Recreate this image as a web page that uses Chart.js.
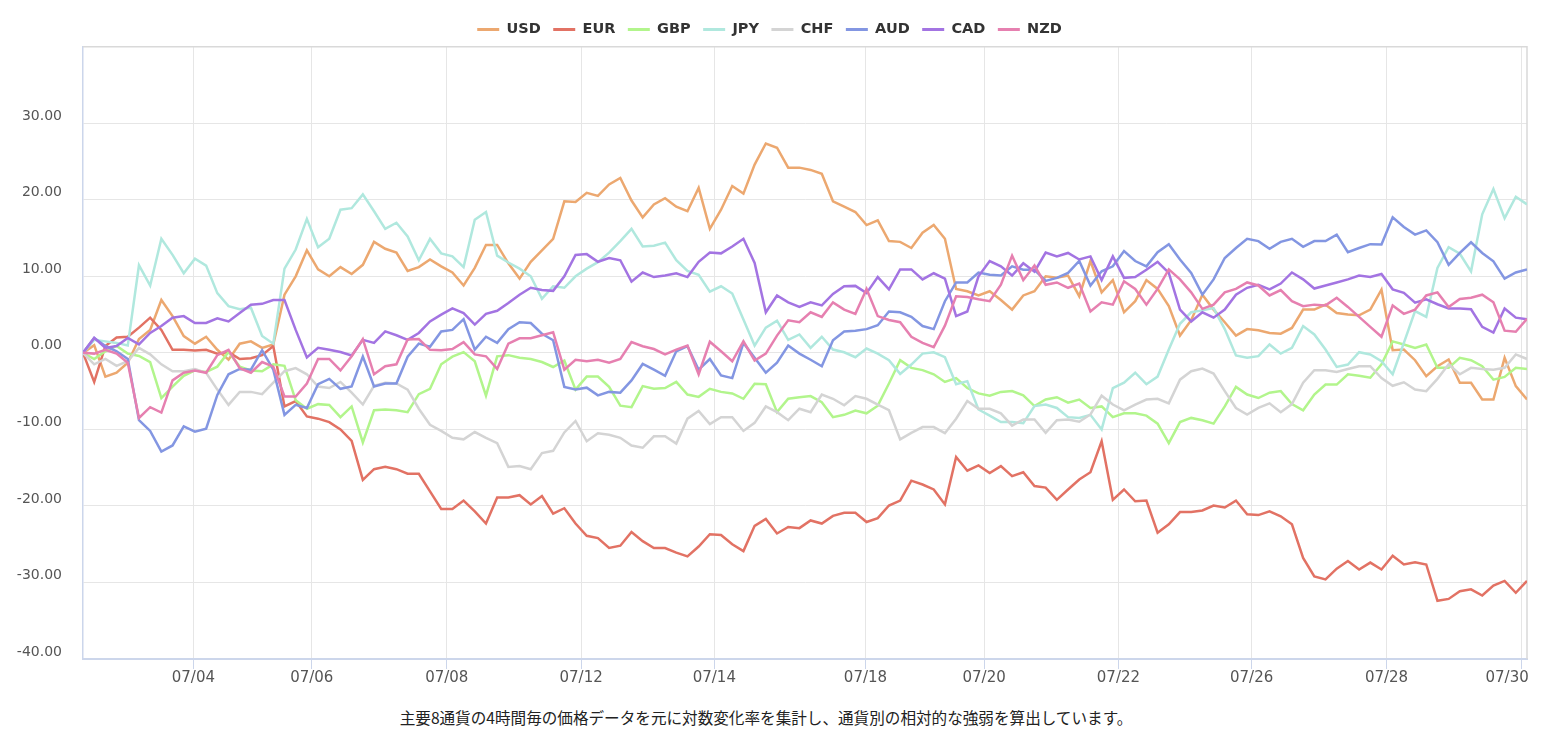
<!DOCTYPE html>
<html lang="ja">
<head>
<meta charset="utf-8">
<title>通貨強弱</title>
<script src="https://cdn.jsdelivr.net/npm/chart.js@4.4.1/dist/chart.umd.min.js"></script>
<style>
  html, body { margin: 0; padding: 0; background: #fff; }
  #wrap { position: relative; width: 1542px; height: 700px; }
  #note {
    position: absolute; top: 706px; left: 0; width: 1532px;
    text-align: center; line-height: 20px; color: #222;
    font: 15.6px "Noto Sans CJK JP", sans-serif;
  }
</style>
</head>
<body>
<div id="wrap"><canvas id="strengthChart"></canvas></div>
<div id="note">主要8通貨の4時間毎の価格データを元に対数変化率を集計し、通貨別の相対的な強弱を算出しています。</div>
<script>
const currencies = ["USD", "EUR", "GBP", "JPY", "CHF", "AUD", "CAD", "NZD"];

// x axis: point index (4h bars); ticks sit between bars
const tickPos = [9.86, 20.44, 32.5, 44.5, 56.4, 69.9, 80.5, 92.5, 104.4, 116.45, 128.5];
const tickLabels = ["07/04", "07/06", "07/08", "07/12", "07/14", "07/18", "07/20", "07/22", "07/26", "07/28", "07/30"];

const usd = [0, 1.0, -3.1, -2.6, -1.3, 1.8, 3.0, 6.9, 4.8, 2.2, 1.2, 2.1, 0.4, -0.9, 1.2, 1.5, 0.65, 1.1, 7.6, 10.0, 13.4, 10.9,
  10.0, 11.2, 10.3, 11.5, 14.5, 13.6, 13.1, 10.7, 11.2, 12.2, 11.3, 10.5, 8.8, 11.1, 14.1, 14.1, 11.7, 9.7, 11.9, 13.4, 14.9, 19.8,
  19.7, 20.9, 20.5, 22.0, 22.85, 19.9, 17.7, 19.4, 20.2, 19.1, 18.5, 21.55, 16.2, 18.7, 21.8, 20.8, 24.6, 27.35, 26.8, 24.2, 24.2, 23.9,
  23.4, 19.8, 19.1, 18.4, 16.7, 17.3, 14.6, 14.5, 13.7, 15.7, 16.7, 14.9, 8.35, 8.05, 7.5, 8.05, 6.9, 5.65, 7.5, 8.05, 10.0,
  9.8, 10.1, 7.4, 12.0, 7.9, 9.5, 5.3, 6.75, 9.5, 8.35, 6.1, 2.26, 4.26, 7.6, 5.65, 4.0, 2.26, 3.1, 2.96, 2.6, 2.5, 3.25,
  5.65, 5.65, 6.3, 5.2, 5.0, 4.9, 5.65, 8.25, 0.35, 0.43, -0.96, -3.05, -1.75, -0.87, -3.9, -3.9, -6.1, -6.1, -0.65, -4.35, -6.1];

const eur = [0, -3.8, 0.9, 2.0, 2.1, 3.3, 4.6, 3.0, 0.4, 0.4, 0.3, 0.4, -0.1, 0.1, -0.8, -0.7, -0.3, 0.9, -7.0, -6.3, -8.3, -8.6,
  -9.05, -10.0, -11.5, -16.6, -15.2, -14.9, -15.2, -15.8, -15.8, -18.1, -20.4, -20.4, -19.3, -20.7, -22.3, -18.9, -18.9, -18.6, -19.8, -18.7, -21.0, -20.3,
  -22.3, -23.9, -24.2, -25.5, -25.2, -23.4, -24.6, -25.5, -25.5, -26.1, -26.6, -25.3, -23.7, -23.8, -25.0, -25.9, -22.6, -21.7, -23.6, -22.75, -22.9, -21.9,
  -22.3, -21.3, -20.9, -20.9, -22.1, -21.6, -19.95, -19.3, -16.7, -17.2, -17.85, -19.8, -13.6, -15.4, -14.7, -15.7, -14.8, -16.1, -15.6, -17.4, -17.6,
  -19.2, -17.85, -16.55, -15.6, -11.55, -19.2, -17.85, -19.4, -19.3, -23.5, -22.4, -20.8, -20.8, -20.6, -19.95, -20.2, -19.3, -21.1, -21.2, -20.7, -21.35, -22.4,
  -26.8, -29.2, -29.6, -28.2, -27.2, -28.3, -27.4, -28.3, -26.5, -27.65, -27.35, -27.65, -32.4, -32.15, -31.15, -30.9, -31.7, -30.4, -29.8, -31.35, -29.8];

const gbp = [0, -0.8, 0.2, 0.9, -0.1, -0.4, -1.2, -5.9, -4.4, -3.0, -2.3, -2.5, -1.8, 0.1, -1.8, -2.3, -2.4, -1.5, -1.7, -6.2, -7.3, -6.7,
  -6.8, -8.4, -7.0, -11.7, -7.5, -7.4, -7.5, -7.75, -5.4, -4.7, -1.5, -0.5, 0.1, -1.1, -5.6, -0.45, -0.3, -0.65, -0.8, -1.2, -1.85, -1.0,
  -4.8, -3.1, -3.1, -4.45, -6.9, -7.1, -4.35, -4.7, -4.6, -3.8, -5.45, -5.75, -4.7, -5.1, -5.3, -6.0, -4.05, -4.1, -7.75, -6.0, -5.8, -5.65,
  -6.45, -8.4, -8.1, -7.55, -7.9, -6.9, -4.0, -0.96, -1.96, -2.26, -2.8, -3.8, -3.3, -4.6, -5.3, -5.6, -5.1, -5.0, -5.55, -6.95, -6.1,
  -5.8, -6.5, -6.1, -7.2, -7.0, -8.4, -7.9, -7.9, -8.2, -9.25, -11.8, -9.05, -8.5, -8.8, -9.25, -7.0, -4.45, -5.45, -5.9, -5.2, -5.0, -6.7,
  -7.5, -5.45, -4.15, -4.15, -2.8, -3.0, -3.25, -1.5, 1.5, 1.1, 0.65, 1.1, -1.96, -1.96, -0.65, -0.96, -1.75, -3.5, -3.15, -1.96, -2.1];

const jpy = [0, 1.7, 1.5, 1.3, 0.95, 11.45, 8.8, 14.9, 12.8, 10.4, 12.3, 11.4, 7.8, 6.1, 5.7, 5.9, 2.2, 1.2, 11.0, 13.5, 17.5, 13.8,
  14.9, 18.7, 18.9, 20.7, 18.5, 16.2, 17.0, 15.2, 12.1, 14.9, 13.0, 12.6, 11.2, 17.4, 18.4, 12.7, 11.8, 11.0, 10.0, 7.05, 8.7, 8.5,
  10.0, 11.0, 11.85, 13.1, 14.6, 16.2, 13.9, 14.0, 14.4, 12.1, 10.7, 10.2, 8.0, 8.7, 7.75, 4.35, 0.95, 3.3, 4.2, 1.7, 2.4, 0.65,
  2.1, 0.43, 0.08, -0.57, 0.56, -0.1, -0.96, -2.75, -1.53, -0.1, 0.08, -0.57, -4.1, -3.7, -7.4, -8.2, -9.05, -9.05, -9.2, -6.95, -6.75,
  -7.2, -8.4, -8.5, -8.1, -10.0, -4.6, -3.9, -2.6, -4.1, -3.1, 0.43, 3.8, 5.3, 5.55, 5.85, 3.1, -0.35, -0.65, -0.43, 1.1, -0.1, 0.65,
  3.5, 2.4, 0.43, -1.84, -1.53, 0.08, -0.22, -1.1, -2.8, 1.3, 5.45, 4.7, 11.1, 13.8, 12.95, 10.65, 18.1, 21.4, 17.6, 20.4, 19.4];

const chf = [0, -1.5, -0.8, -1.7, -1.1, 0.65, -0.2, -1.5, -2.4, -2.4, -2.1, -2.6, -4.8, -6.8, -5.1, -5.1, -5.4, -3.9, -2.4, -2.0, -2.8, -4.4,
  -4.6, -3.8, -5.2, -6.75, -4.3, -3.9, -4.0, -4.8, -7.3, -9.4, -10.2, -11.1, -11.3, -10.35, -11.1, -11.8, -14.9, -14.8, -15.2, -13.1, -12.8, -10.4,
  -8.9, -11.55, -10.5, -10.7, -11.1, -12.1, -12.4, -10.9, -10.9, -11.85, -8.6, -7.6, -9.3, -8.4, -8.4, -10.2, -9.15, -7.0, -7.75, -8.8, -7.3, -7.75,
  -5.45, -6.0, -6.85, -5.65, -6.0, -6.75, -7.5, -11.3, -10.45, -9.7, -9.7, -10.5, -8.6, -6.3, -7.3, -7.3, -7.9, -9.5, -8.7, -8.7, -10.45,
  -8.8, -8.7, -9.0, -8.05, -5.6, -6.75, -7.5, -6.75, -6.1, -6.0, -6.6, -3.5, -2.4, -2.05, -2.7, -5.0, -7.2, -8.05, -7.2, -6.6, -7.75, -6.7,
  -3.9, -2.26, -2.26, -2.5, -2.1, -1.75, -1.75, -3.3, -4.3, -3.85, -4.8, -5.0, -3.4, -1.5, -2.8, -1.96, -2.1, -2.2, -1.96, -0.2, -0.8];

const aud = [0, 1.95, 0.9, 0.2, -0.8, -8.8, -10.2, -12.9, -12.1, -9.6, -10.3, -9.9, -5.5, -2.8, -2.1, -2.2, 0.35, -2.2, -8.1, -6.8, -7.2, -4.1,
  -3.4, -4.7, -4.4, -0.5, -4.4, -4.0, -4.0, -0.5, 1.2, 0.8, 2.8, 3.0, 4.4, 0.43, 2.1, 1.3, 3.1, 4.0, 3.9, 2.5, 1.65, -4.45,
  -4.8, -4.55, -5.55, -5.1, -5.2, -3.6, -1.45, -2.2, -3.0, 0.2, 0.87, -2.2, -0.8, -2.95, -3.3, 1.3, -0.65, -2.6, -1.3, 0.95, -0.1, -0.9,
  -1.75, 1.65, 2.8, 2.9, 3.1, 3.6, 5.4, 5.3, 4.7, 3.5, 3.1, 6.75, 9.2, 9.2, 10.5, 10.2, 10.1, 11.3, 10.85, 10.85, 9.4,
  9.8, 10.45, 12.0, 8.8, 10.65, 11.3, 13.3, 12.0, 11.3, 13.15, 14.2, 12.2, 10.45, 7.6, 9.6, 12.4, 13.7, 14.9, 14.6, 13.6, 14.5, 14.9,
  13.85, 14.6, 14.6, 15.45, 13.15, 13.7, 14.2, 14.15, 17.7, 16.45, 15.45, 16.0, 14.45, 11.5, 13.05, 14.45, 13.05, 11.96, 9.7, 10.5, 10.9];

const cad = [0, 1.95, 0.65, 0.9, 1.95, 1.1, 2.6, 3.5, 4.6, 4.8, 3.9, 3.9, 4.5, 4.1, 5.2, 6.3, 6.4, 6.9, 6.9, 3.0, -0.6, 0.65,
  0.4, 0.1, -0.35, 1.7, 1.3, 2.8, 2.3, 1.7, 2.6, 4.1, 5.0, 5.8, 5.2, 3.7, 5.1, 5.5, 6.5, 7.6, 8.5, 8.2, 8.1, 10.0,
  12.8, 12.9, 11.9, 12.4, 12.1, 9.3, 10.5, 9.9, 10.1, 10.4, 9.9, 11.9, 13.1, 13.0, 13.9, 14.9, 11.75, 5.3, 7.5, 6.6, 6.0, 6.6,
  6.2, 7.7, 8.7, 8.75, 7.8, 9.9, 8.3, 10.9, 10.9, 9.6, 10.4, 9.7, 4.8, 5.4, 10.0, 12.0, 11.3, 10.1, 11.7, 10.6, 13.1,
  12.6, 13.05, 12.2, 12.6, 9.5, 12.6, 9.8, 9.9, 10.85, 11.9, 10.45, 5.65, 4.1, 5.3, 4.6, 5.65, 7.6, 8.5, 8.9, 8.3, 9.05, 10.5,
  9.6, 8.4, 8.8, 9.2, 9.6, 10.1, 9.9, 10.3, 8.3, 7.85, 6.55, 7.0, 6.35, 5.8, 5.8, 5.7, 3.4, 2.65, 5.8, 4.6, 4.4];

const nzd = [0, -0.1, 0.4, -0.1, -1.3, -8.5, -7.1, -7.8, -3.6, -2.6, -2.3, -2.6, -0.3, 0.4, -2.0, -2.6, -1.2, -1.8, -5.7, -5.7, -4.0, -0.8,
  -0.8, -2.3, -0.45, 1.8, -2.8, -1.75, -1.5, 1.75, 1.8, 0.4, 0.35, 0.5, 1.4, -0.2, -0.45, -2.1, 1.2, 1.9, 1.9, 2.3, 2.7, -2.2,
  -0.9, -1.1, -0.9, -1.3, -0.8, 1.4, 0.87, 0.5, -0.2, 0.43, 0.95, -2.8, 1.45, 0.2, -1.1, 1.5, -1.0, -0.1, 2.25, 4.25, 4.0, 5.3,
  4.7, 6.6, 5.65, 5.1, 8.35, 4.8, 4.3, 4.0, 2.1, 1.3, 0.73, 3.55, 7.4, 7.3, 7.0, 6.75, 8.9, 12.7, 9.5, 11.4, 8.9,
  9.2, 8.5, 9.05, 5.4, 6.6, 6.3, 9.35, 8.35, 6.3, 8.35, 10.9, 9.6, 7.9, 5.75, 6.3, 7.9, 8.35, 9.2, 8.8, 7.5, 8.2, 6.75,
  6.1, 6.3, 6.2, 7.2, 6.0, 4.7, 3.4, 2.1, 6.2, 5.1, 5.65, 7.5, 7.9, 6.0, 7.05, 7.2, 7.6, 6.6, 2.9, 2.75, 4.45];

const seriesValues = [usd, eur, gbp, jpy, chf, aud, cad, nzd];
const lineColors = ["#eca870", "#e27264", "#b2f58c", "#b0e8de", "#d4d4d4", "#8396e2", "#a374e2", "#e680b0"];

// top and right edge of the plot frame
const frameEdges = {
  id: "frameEdges",
  beforeDatasetsDraw(chart) {
    const { ctx, chartArea: a } = chart;
    ctx.save();
    ctx.strokeStyle = "#d9d9d9";
    ctx.lineWidth = 1.5;
    ctx.beginPath();
    ctx.moveTo(a.left, a.top);
    ctx.lineTo(a.right, a.top);
    ctx.lineTo(a.right, a.bottom);
    ctx.stroke();
    ctx.restore();
  }
};

const datasets = currencies.map((name, i) => ({
  label: name,
  data: seriesValues[i].map((v, idx) => ({ x: idx, y: v })),
  borderColor: lineColors[i],
  backgroundColor: lineColors[i],
  borderWidth: 2.5,
  pointRadius: 0,
  tension: 0,
  order: currencies.length - i
}));

new Chart(document.getElementById("strengthChart"), {
  type: "line",
  data: { datasets: datasets },
  options: {
    responsive: true,
    maintainAspectRatio: false,
    animation: false,
    layout: { padding: { top: 9.7, right: 15, bottom: 13, left: 12 } },
    plugins: {
      legend: {
        position: "top",
        labels: {
          boxWidth: 22,
          boxHeight: 3,
          padding: 12.5,
          color: "#333",
          font: { family: "DejaVu Sans", size: 14.5, weight: "bold" },
          sort: (a, b) => a.datasetIndex - b.datasetIndex,
          generateLabels(chart) {
            const items = Chart.defaults.plugins.legend.labels.generateLabels(chart);
            items.forEach(it => { it.lineWidth = 0; it.fillStyle = it.strokeStyle; });
            return items;
          }
        }
      },
      tooltip: { enabled: false }
    },
    scales: {
      x: {
        type: "linear",
        min: 0,
        max: usd.length - 1,
        afterBuildTicks: s => { s.ticks = tickPos.map(v => ({ value: v })); },
        afterFit: s => { s.paddingLeft = 0; s.paddingRight = 0; },
        grid: { color: "#e6e6e6", tickColor: "#ccd6eb", tickLength: 10 },
        border: { color: "#ccd6eb", width: 2 },
        ticks: {
          autoSkip: false,
          maxRotation: 0,
          padding: 0,
          color: "#555",
          font: { family: "DejaVu Sans", size: 15 },
          // last label is pushed left so it stays inside the canvas
          callback: (v, i) => i === tickLabels.length - 1 ? tickLabels[i] + "\u00a0".repeat(6) : tickLabels[i]
        }
      },
      y: {
        min: -40,
        max: 40,
        afterFit: s => { s.width = 71; s.paddingTop = 0; s.paddingBottom = 0; },
        grid: { color: "#e6e6e6", drawTicks: false },
        border: { color: "#ccd6eb", width: 1.5 },
        ticks: {
          stepSize: 10,
          padding: 21,
          labelOffset: -7,
          color: "#555",
          font: { family: "DejaVu Sans", size: 14 },
          callback: v => v >= 40 ? "" : v.toFixed(2)
        }
      }
    }
  },
  plugins: [frameEdges]
});
</script>
</body>
</html>
